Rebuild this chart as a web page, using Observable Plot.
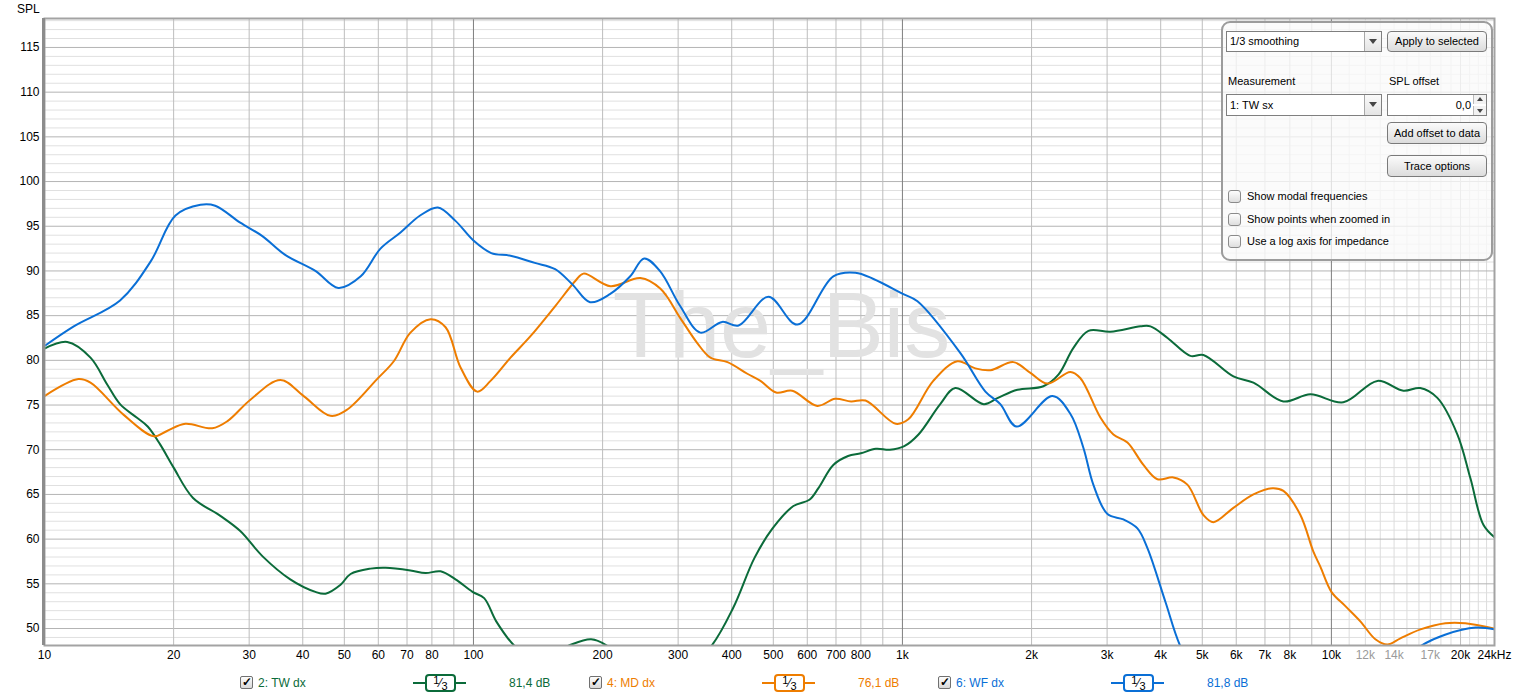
<!DOCTYPE html>
<html><head><meta charset="utf-8">
<script src="https://cdn.jsdelivr.net/npm/d3@7"></script>
<script src="https://cdn.jsdelivr.net/npm/@observablehq/plot@0.6"></script>
<style>
body{margin:0;background:#fff;font-family:"Liberation Sans",Arial,sans-serif;color:#000;}
#wrap{position:relative;width:1516px;height:697px;overflow:hidden;background:#fff;}
#chart{position:absolute;left:0;top:0;}
.abs{position:absolute;white-space:nowrap;}
#spl{left:17px;top:2px;font-size:12px;}
#panel{left:1221px;top:21px;width:268px;height:236px;border:2px solid #9c9c9c;border-radius:9px;background:rgba(250,250,250,0.78);}
.ui{position:absolute;box-sizing:border-box;font-size:11px;white-space:nowrap;}
.sel{border:1px solid #7f7f7f;background:#fff;line-height:19px;padding-left:3px;}
.sel .arr{position:absolute;right:0;top:0;width:16px;height:100%;border-left:1px solid #a8a8a8;background:linear-gradient(#fafafa,#e4e4e4);}
.sel .arr:after{content:"";position:absolute;left:4px;top:7px;border-left:4px solid transparent;border-right:4px solid transparent;border-top:5px solid #444;}
.btn{border:1px solid #7a7a7a;border-radius:4px;background:linear-gradient(#fbfbfb,#dcdcdc);text-align:center;line-height:19px;}
.spin{border:1px solid #7f7f7f;background:#fff;text-align:right;padding-right:15px;line-height:20px;}
.spin .up,.spin .dn{position:absolute;right:0;width:12px;height:9px;border-left:1px solid #bbb;background:#f2f2f2;}
.spin .up{top:0;} .spin .dn{bottom:0;}
.spin .up:after{content:"";position:absolute;left:3px;top:2px;border-left:3px solid transparent;border-right:3px solid transparent;border-bottom:4px solid #444;}
.spin .dn:after{content:"";position:absolute;left:3px;top:3px;border-left:3px solid transparent;border-right:3px solid transparent;border-top:4px solid #444;}
.cb{width:13px;height:13px;border:1px solid #8a8a8a;border-radius:3px;background:linear-gradient(#fdfdfd,#dedede);}
.lg{position:absolute;font-size:12px;white-space:nowrap;top:676px;}
.lgcb{position:absolute;box-sizing:border-box;width:13px;height:13px;border:1px solid #707070;border-radius:2px;background:linear-gradient(#fdfdfd,#d8d8d8);font-size:12px;line-height:11px;text-align:center;color:#000;font-weight:bold;}
.sym{position:absolute;height:18px;}
.sym .ln{position:absolute;left:0;right:0;top:8px;height:2px;}
.sym .bx{position:absolute;left:12px;width:27px;top:0;height:14px;border:2px solid;border-radius:4px;background:#fff;color:#000;font-size:12px;text-align:center;line-height:14px;}
.sym sup{font-size:11px;vertical-align:3px;line-height:0;}
.sym sub{font-size:11px;vertical-align:-3px;line-height:0;}
</style></head><body>
<div id="wrap">
  <div id="chart"></div>
  <div class="abs" id="spl">SPL</div>
  <div class="abs" id="panel"></div>
  <div class="ui sel" style="left:1226px;top:31px;width:156px;height:21px;">1/3 smoothing<span class="arr"></span></div>
  <div class="ui btn" style="left:1387px;top:31px;width:100px;height:21px;">Apply to selected</div>
  <div class="ui" style="left:1228px;top:75px;">Measurement</div>
  <div class="ui" style="left:1389px;top:75px;">SPL offset</div>
  <div class="ui sel" style="left:1226px;top:94px;width:156px;height:22px;line-height:20px;">1: TW sx<span class="arr"></span></div>
  <div class="ui spin" style="left:1387px;top:94px;width:100px;height:22px;">0,0<span class="up"></span><span class="dn"></span></div>
  <div class="ui btn" style="left:1387px;top:122px;width:100px;height:22px;line-height:20px;">Add offset to data</div>
  <div class="ui btn" style="left:1387px;top:155px;width:100px;height:22px;line-height:20px;">Trace options</div>
  <div class="ui cb" style="left:1228px;top:190px;"></div>
  <div class="ui" style="left:1247px;top:190px;">Show modal frequencies</div>
  <div class="ui cb" style="left:1228px;top:213px;"></div>
  <div class="ui" style="left:1247px;top:213px;">Show points when zoomed in</div>
  <div class="ui cb" style="left:1228px;top:235px;"></div>
  <div class="ui" style="left:1247px;top:235px;">Use a log axis for impedance</div>
  <div id="legend"></div>
</div>
<script>
// ---- series: 2: TW dx (green) ----
const twFreq = [10, 11.3, 12.8, 14.0, 15.0, 16.4, 17.4, 18.6, 20.0, 22.2, 25.7, 28.6, 32.2, 37.4, 42.8, 45.2, 49.0, 51.7, 57.5, 62.4, 71.3, 77.3, 83.8, 90.8, 99.5, 105.9, 113, 125, 140, 165, 188, 206, 250, 300, 358, 403, 452, 498, 557, 607, 637, 690, 747, 800, 867, 935, 1010, 1090, 1225, 1328, 1548, 1670, 1854, 2131, 2310, 2504, 2714, 3055, 3589, 3787, 4150, 4690, 5031, 5910, 6580, 7730, 8935, 10660, 12800, 14720, 16110, 17660, 19670, 21090, 22610, 24000];
const twSpl  = [81.3, 82.05, 80.3, 77.3, 75.1, 73.6, 72.6, 70.6, 68.0, 64.6, 62.6, 60.9, 58.1, 55.5, 54.1, 53.9, 54.9, 56.1, 56.7, 56.8, 56.5, 56.2, 56.4, 55.5, 54.1, 53.4, 50.8, 48.0, 46.5, 48.0, 48.8, 48.0, 44.0, 44.5, 48.0, 52.3, 57.9, 61.2, 63.7, 64.4, 65.7, 68.3, 69.3, 69.6, 70.1, 70.0, 70.4, 71.7, 75.1, 76.9, 75.1, 75.8, 76.7, 77.1, 78.4, 81.4, 83.3, 83.2, 83.8, 83.8, 82.5, 80.5, 80.6, 78.2, 77.5, 75.4, 76.2, 75.3, 77.7, 76.6, 76.9, 75.8, 71.7, 66.8, 61.6, 60.2];
// ---- series: 4: MD dx (orange) ----
const mdFreq = [10, 12.0, 12.8, 15.3, 18.0, 19.3, 21.3, 24.6, 26.7, 30.2, 35.5, 40.2, 46.4, 50.8, 59.6, 65.2, 71.3, 79.4, 86.1, 93.3, 102, 109.6, 122, 135.8, 155.3, 172.9, 180.5, 208.6, 245, 272.9, 303.8, 332.8, 356.7, 391, 435, 466.7, 507.6, 553.5, 633, 696.5, 759, 820, 965, 1032, 1180, 1343, 1479, 1604, 1814, 1988, 2178, 2464, 2600, 2894, 3103, 3346, 3646, 3930, 4282, 4616, 5030, 5308, 5910, 6580, 7288, 7730, 8467, 9078, 9428, 10000, 10780, 11680, 12660, 13510, 14480, 16130, 18440, 20530, 24000];
const mdSpl  = [76.0, 77.9, 77.5, 73.9, 71.5, 72.1, 72.9, 72.4, 73.2, 75.6, 77.8, 76.0, 73.8, 74.5, 77.9, 79.9, 83.1, 84.6, 83.7, 79.2, 76.5, 77.7, 80.3, 82.7, 86.1, 88.9, 89.7, 88.3, 89.2, 88.0, 84.7, 81.9, 80.3, 79.8, 78.5, 77.7, 76.4, 76.6, 74.9, 75.7, 75.4, 75.5, 72.9, 73.4, 77.7, 79.9, 79.1, 78.9, 79.8, 78.6, 77.4, 78.7, 78.0, 73.6, 71.7, 70.8, 68.3, 66.7, 66.9, 66.1, 62.7, 61.9, 63.5, 65.0, 65.7, 65.4, 62.7, 58.6, 56.9, 54.1, 52.5, 50.8, 48.8, 48.2, 48.9, 49.9, 50.6, 50.6, 50.0];
// ---- series: 6: WF dx (blue) ----
const wfFreq = [10, 11.7, 15.0, 17.7, 20.2, 23.1, 25.0, 28.6, 32.2, 36.4, 42.8, 48.4, 54.6, 60.7, 67.6, 75.1, 82.6, 90.8, 100, 110, 122, 139, 155, 170, 187, 208, 232, 250, 272, 303, 338, 380, 415, 487, 569, 690, 777, 856, 1005, 1084, 1365, 1561, 1691, 1845, 2237, 2464, 2642, 2786, 3006, 3274, 3530, 3725, 4102, 4446, 5200, 8000, 12000, 14800, 16100, 18400, 21700, 24000];
const wfSpl  = [81.6, 83.8, 86.7, 91.1, 96.2, 97.4, 97.3, 95.4, 93.9, 91.8, 90.0, 88.1, 89.4, 92.5, 94.3, 96.2, 97.1, 95.6, 93.4, 92.0, 91.7, 90.9, 90.2, 88.5, 86.5, 87.4, 89.4, 91.4, 90.0, 86.1, 83.1, 84.3, 83.9, 87.1, 84.0, 89.4, 89.8, 89.1, 87.4, 86.6, 80.8, 76.5, 75.1, 72.6, 76.0, 74.0, 70.2, 66.1, 62.8, 62.2, 61.2, 59.0, 53.0, 48.0, 42.0, 38.0, 40.0, 46.5, 48.0, 49.3, 50.1, 49.9];

const seriesNames  = ["2: TW dx", "4: MD dx", "6: WF dx"];
const seriesColors = ["#0b6b3a", "#ee7d00", "#0a6fd6"];
const seriesLevels = ["81,4 dB", "76,1 dB", "81,8 dB"];
const seriesData = [[twFreq, twSpl], [mdFreq, mdSpl], [wfFreq, wfSpl]];

// ---- axes ----
const yTicks = [50, 55, 60, 65, 70, 75, 80, 85, 90, 95, 100, 105, 110, 115];
const yMinor = d3.range(49, 119, 1);
const xTickVals   = [10, 20, 30, 40, 50, 60, 70, 80, 100, 200, 300, 400, 500, 600, 700, 800, 1000, 2000, 3000, 4000, 5000, 6000, 7000, 8000, 10000, 12000, 14000, 17000, 20000, 24000];
const xTickLabels = ["10", "20", "30", "40", "50", "60", "70", "80", "100", "200", "300", "400", "500", "600", "700", "800", "1k", "2k", "3k", "4k", "5k", "6k", "7k", "8k", "10k", "12k", "14k", "17k", "20k", "24kHz"];
const xGrayTicks  = [12000, 14000, 17000];
const xGrid   = [20, 30, 40, 50, 60, 70, 80, 90, 200, 300, 400, 500, 600, 700, 800, 900, 2000, 3000, 4000, 5000, 6000, 7000, 8000, 9000, 20000];
const xGridFine = [11000, 12000, 13000, 14000, 15000, 16000, 17000, 18000, 19000, 21000, 22000, 23000];
const xDecades = [100, 1000, 10000];

const lines = seriesData.map(([fr, sp], k) =>
  Plot.line(fr.map((f, i) => ({f, v: sp[i]})), {x: "f", y: "v", stroke: seriesColors[k], strokeWidth: 2, curve: "catmull-rom", clip: true}));

const labelOf = d => xTickLabels[xTickVals.indexOf(d)];

const chart = Plot.plot({
  width: 1516, height: 668,
  marginLeft: 44, marginRight: 22, marginTop: 18, marginBottom: 23,
  style: {fontFamily: "Liberation Sans, Arial, sans-serif", fontSize: "12px", background: "transparent", color: "#000"},
  x: {type: "log", domain: [10, 24000], axis: null},
  y: {domain: [48.1, 118.24], axis: null},
  marks: [
    Plot.ruleY(yMinor.filter(v => v % 5 !== 0), {y: d => d, stroke: "#e0e0e0", strokeWidth: 1}),
    Plot.ruleX(xGridFine, {x: d => d, stroke: "#dcdcdc", strokeWidth: 1}),
    Plot.ruleY(yTicks, {y: d => d, stroke: "#b4b4b4", strokeWidth: 1}),
    Plot.ruleX(xGrid, {x: d => d, stroke: "#bdbdbd", strokeWidth: 1}),
    Plot.ruleX(xDecades, {x: d => d, stroke: "#7f7f7f", strokeWidth: 1}),
    Plot.text(["The_Bis"], {frameAnchor: "middle", dx: 12, dy: -4, fontSize: 92, fill: "#e2e2e2", text: d => d, fontFamily: "Liberation Sans, Arial, sans-serif"}),
    ...lines,
    Plot.frame({stroke: "#a3a3a3", strokeWidth: 2}),
    Plot.ruleX([10], {x: d => d, stroke: "#8c8c8c", strokeWidth: 3, dx: -1}),
    Plot.text(yTicks, {y: d => d, frameAnchor: "left", dx: -5, textAnchor: "end", text: d => String(d), fill: "#000"}),
    Plot.text(xTickVals.filter(d => !xGrayTicks.includes(d)), {x: d => d, frameAnchor: "bottom", dy: 13, text: labelOf, fill: "#000"}),
    Plot.text(xGrayTicks, {x: d => d, frameAnchor: "bottom", dy: 13, text: labelOf, fill: "#9a9a9a"})
  ]
});
document.getElementById("chart").appendChild(chart);

// ---- legend ----
const lg = document.getElementById("legend");
seriesNames.forEach((name, i) => {
  const x0 = 240 + i * 349;
  const c = seriesColors[i];
  lg.insertAdjacentHTML("beforeend",
    `<div class="lgcb" style="left:${x0}px;top:676px;">&#10003;</div>` +
    `<div class="lg" style="left:${x0 + 18}px;color:${c};">${name}</div>` +
    `<div class="sym" style="left:${x0 + 173}px;top:674px;width:53px;"><div class="ln" style="background:${c}"></div>` +
    `<div class="bx" style="border-color:${c}"><sup>1</sup>&frasl;<sub>3</sub></div></div>` +
    `<div class="lg" style="left:${x0 + 269}px;color:${c};">${seriesLevels[i]}</div>`);
});
</script>
</body></html>
